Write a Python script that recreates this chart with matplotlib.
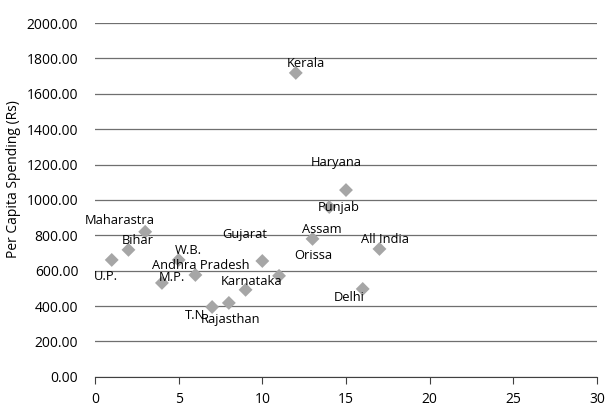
import matplotlib
matplotlib.use("Agg")
import matplotlib.pyplot as plt

plt.rcParams["font.family"] = ["Open Sans", "DejaVu Sans"]
plt.rcParams["font.size"] = 10

# data
states = ["U.P.", "Bihar", "Maharastra", "M.P.", "W.B.", "Andhra Pradesh", "T.N.",
          "Rajasthan", "Karnataka", "Gujarat", "Orissa", "Kerala", "Assam", "Punjab",
          "Haryana", "Delhi", "All India"]
rank = [1, 2, 3, 4, 5, 6, 7, 8, 9, 10, 11, 12, 13, 14, 15, 16, 17]
spending = [661, 718, 820, 531, 661, 576, 395, 418, 492, 655, 571, 1718, 780, 960,
            1056, 497, 723]
y_ticks = [0, 200, 400, 600, 800, 1000, 1200, 1400, 1600, 1800, 2000]
x_ticks = [0, 5, 10, 15, 20, 25, 30]

# label offsets in points (dx, dy), mimicking hand-placed data labels
offsets = {
    "U.P.": (-4, -12), "Bihar": (7, 7), "Maharastra": (-18, 8), "M.P.": (7, 4),
    "W.B.": (7, 7), "Andhra Pradesh": (4, 7), "T.N.": (-11, -6), "Rajasthan": (1, -12),
    "Karnataka": (4, 6), "Gujarat": (-13, 19), "Orissa": (25, 15), "Kerala": (7, 7),
    "Assam": (7, 7), "Punjab": (7, 0), "Haryana": (-7, 20), "Delhi": (-10, -6),
    "All India": (4, 7),
}

fig = plt.figure(figsize=(6.07, 4.11), dpi=100)
ax = fig.add_axes([0.1565, 0.083, 0.827, 0.861])

ax.set_axisbelow(True)
ax.grid(axis="y", color="#6f6f6f", lw=0.9)
ax.scatter(rank, spending, marker="D", s=50, c="#a6a6a6", edgecolors="none", zorder=3)
for name, x, y in zip(states, rank, spending):
    dx, dy = offsets[name]
    ax.annotate(name, (x, y), textcoords="offset points", xytext=(dx, dy),
                ha="center", va="center", fontsize=9.3, color="black", zorder=4)

ax.set_xlim(0, 30)
ax.set_ylim(0, 2000)
ax.set_xticks(x_ticks)
ax.set_yticks(y_ticks)
ax.set_yticklabels([f"{v:.2f}" for v in y_ticks])
ax.set_ylabel("Per Capita Spending (Rs)", fontsize=10)
ax.yaxis.set_label_coords(-0.147, 0.56)
for s in ["top", "right", "left"]:
    ax.spines[s].set_visible(False)
ax.spines["bottom"].set_color("#404040")
ax.tick_params(axis="y", length=0, pad=12)
ax.tick_params(axis="x", direction="out", length=5, color="#404040", pad=6)

fig.savefig("out.png", dpi=100)
